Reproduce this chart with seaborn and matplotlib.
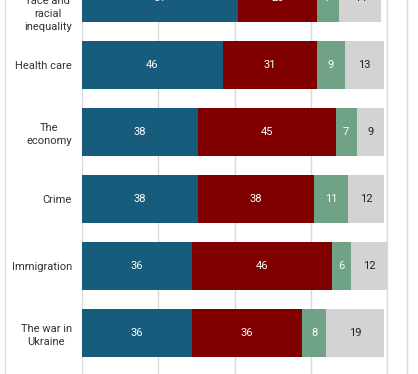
import matplotlib
matplotlib.use("Agg")
import matplotlib.pyplot as plt
import seaborn as sns
import pandas as pd
import numpy as np
from matplotlib.lines import Line2D

# first label: the top two lines are outside the visible (cropped) area
categories = ["\n\nrace and\nracial\ninequality", "Health care", "The\neconomy", "Crime",
              "Immigration", "The war in\nUkraine"]
s1 = [51, 46, 38, 38, 36, 36]
s2 = [26, 31, 45, 38, 46, 36]
s3 = [7, 9, 7, 11, 6, 8]
s4 = [14, 13, 9, 12, 12, 19]
colors = ["#175c7c", "#800000", "#6fa287", "#d3d3d3"]
text_colors = ["white", "white", "white", "#222222"]

sns.set_theme(style="white")
plt.rcParams["font.family"] = ["Roboto", "DejaVu Sans"]

fig = plt.figure(figsize=(4.18, 3.74), dpi=100)
W, H = 418, 374
x0, x1 = 82, 407
ytop, ybot = -48.9, 379.9
ax = fig.add_axes([x0 / W, 1 - ybot / H, (x1 - x0) / W, (ybot - ytop) / H])

vals = np.array([s1, s2, s3, s4], dtype=float)
cum = np.cumsum(vals, axis=0)
df = pd.DataFrame({"cat": categories})
for i in range(4):
    df[f"c{i}"] = cum[i]

for i in reversed(range(4)):
    sns.barplot(data=df, y="cat", x=f"c{i}", color=colors[i], orient="h",
                width=0.716, saturation=1, ax=ax, linewidth=0, zorder=3)

for i in range(4):
    for j in range(len(categories)):
        center = cum[i][j] - vals[i][j] / 2
        ax.text(center, j, f"{int(vals[i][j])}", ha="center", va="center",
                color=text_colors[i], fontsize=8, zorder=5)

ax.set_xlim(0, 106.4)
ax.set_ylim(5.7, -0.7)
ax.set_xticks([0, 25, 50, 75, 100])
ax.xaxis.grid(True, color="#d9d9d9", linewidth=1, zorder=0)
ax.set_axisbelow(True)
ax.set_xticklabels([])
ax.set_xlabel("")
ax.set_ylabel("")
ax.tick_params(axis="y", length=0, pad=7.2, labelsize=8, labelcolor="#333333")
ax.tick_params(axis="x", length=0)
for lab in ax.get_yticklabels():
    lab.set_multialignment("center")
    lab.set_linespacing(1.4)
for sp in ax.spines.values():
    sp.set_visible(False)

for xp in (5.3, 407.3):
    fig.add_artist(Line2D([xp / W, xp / W], [0, 1], transform=fig.transFigure,
                          color="#d9d9d9", linewidth=1))

fig.savefig("out.png", dpi=100)
